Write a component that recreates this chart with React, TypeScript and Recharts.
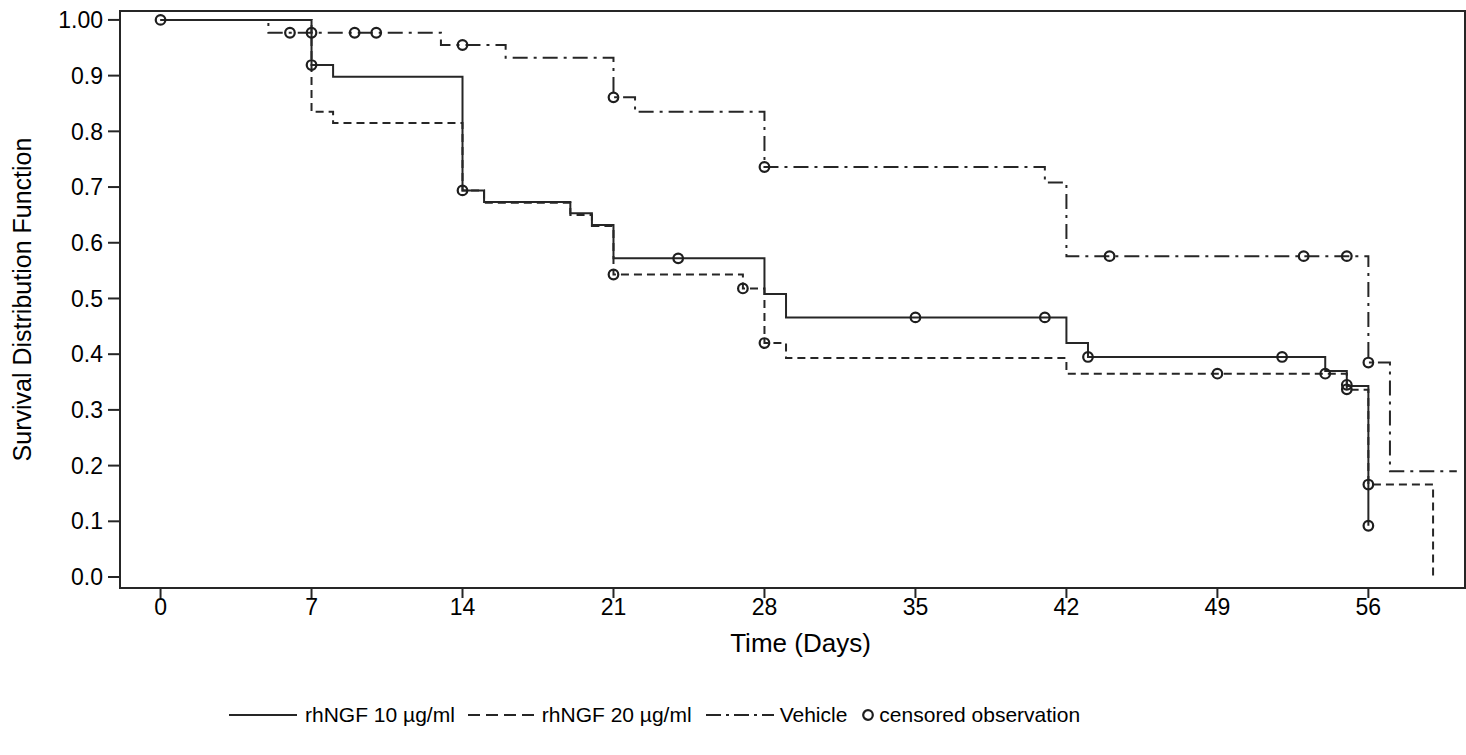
import React from 'react';
import {
  ComposedChart,
  Line,
  Scatter,
  XAxis,
  YAxis,
  ReferenceArea,
} from 'recharts';

// ---- Data (Kaplan-Meier step points: time in days, survival) ----
const timesNGF10 = [0, 7, 8, 14, 15, 19, 20, 21, 28, 29, 42, 43, 54, 55, 56];
const survNGF10 = [1.0, 0.919, 0.898, 0.694, 0.673, 0.653, 0.632, 0.572, 0.508, 0.466, 0.42, 0.395, 0.37, 0.343, 0.092];

const timesNGF20 = [0, 7, 8, 14, 15, 19, 20, 21, 27, 28, 29, 42, 55, 56, 59];
const survNGF20 = [1.0, 0.835, 0.815, 0.694, 0.672, 0.65, 0.63, 0.543, 0.518, 0.42, 0.393, 0.365, 0.336, 0.166, 0.0];

const timesVehicle = [0, 5, 13, 16, 21, 22, 28, 41, 42, 56, 57, 60.1];
const survVehicle = [1.0, 0.977, 0.955, 0.932, 0.861, 0.835, 0.736, 0.708, 0.576, 0.385, 0.19, 0.19];

// censored observations
const censTimesNGF10 = [0, 7, 14, 24, 35, 41, 43, 52, 55, 56];
const censSurvNGF10 = [1.0, 0.919, 0.694, 0.572, 0.466, 0.466, 0.395, 0.395, 0.345, 0.092];

const censTimesNGF20 = [21, 27, 28, 49, 54, 55, 56];
const censSurvNGF20 = [0.543, 0.518, 0.42, 0.365, 0.365, 0.337, 0.166];

const censTimesVehicle = [6, 7, 9, 10, 14, 21, 28, 44, 53, 55, 56];
const censSurvVehicle = [0.977, 0.977, 0.977, 0.977, 0.955, 0.861, 0.736, 0.576, 0.576, 0.576, 0.385];

const xTicks = [0, 7, 14, 21, 28, 35, 42, 49, 56];
const yTicks = [0, 0.1, 0.2, 0.3, 0.4, 0.5, 0.6, 0.7, 0.8, 0.9, 1.0];

const seriesNames = ['rhNGF 10 µg/ml', 'rhNGF 20 µg/ml', 'Vehicle', 'censored observation'];

// ---- build tables ----
const zip = (ts: number[], ss: number[]) => ts.map((t, i) => ({ t, s: ss[i] }));
const dataNGF10 = zip(timesNGF10, survNGF10);
const dataNGF20 = zip(timesNGF20, survNGF20);
const dataVehicle = zip(timesVehicle, survVehicle);
const censored = [
  ...zip(censTimesNGF10, censSurvNGF10),
  ...zip(censTimesNGF20, censSurvNGF20),
  ...zip(censTimesVehicle, censSurvVehicle),
];

const X_DOMAIN: [number, number] = [-1.88, 60.48];
const Y_DOMAIN: [number, number] = [-0.0197, 1.016];

const INK = '#262626';
const FONT = '"Liberation Sans", Arial, Helvetica, sans-serif';
const DASH_20 = '8 5';
const DASH_VEH = '15 6 3 6';

const CircleShape = (props: any) => {
  const { cx, cy } = props;
  if (cx == null || cy == null) return null;
  return <circle cx={cx} cy={cy} r={4.8} fill="none" stroke="#1e1e1e" strokeWidth={2.2} />;
};

const YLabel = (props: any) => {
  const vb = props.viewBox || {};
  const cy = (vb.y ?? 0) + (vb.height ?? 0) / 2;
  const cx = 22;
  return (
    <text
      x={cx}
      y={cy}
      transform={`rotate(-90 ${cx} ${cy})`}
      textAnchor="middle"
      dominantBaseline="central"
      fontSize={25}
      fontFamily={FONT}
      fill="#000"
    >
      Survival Distribution Function
    </text>
  );
};

const XLabel = (props: any) => {
  const vb = props.viewBox || {};
  const cx = (vb.x ?? 0) + (vb.width ?? 0) / 2 + 8;
  return (
    <text x={cx} y={643} textAnchor="middle" dominantBaseline="central" fontSize={26} fontFamily={FONT} fill="#000">
      Time (Days)
    </text>
  );
};

const LegendSample = ({ dash, circle }: { dash?: string; circle?: boolean }) => (
  <svg width={circle ? 14 : 68} height={14} style={{ display: 'block' }}>
    {circle ? (
      <circle cx={7} cy={7} r={4.8} fill="none" stroke="#1e1e1e" strokeWidth={2.2} />
    ) : (
      <line x1={0} y1={7} x2={68} y2={7} stroke={INK} strokeWidth={2} strokeDasharray={dash} />
    )}
  </svg>
);

export default function App() {
  return (
    <div style={{ position: 'absolute', left: 0, top: 0, width: 1466, height: 755, background: '#fff', fontFamily: FONT }}>
      <ComposedChart width={1466} height={755} margin={{ top: 11, right: 1, bottom: 0, left: 0 }}>
        <XAxis
          type="number"
          dataKey="t"
          domain={X_DOMAIN}
          allowDataOverflow
          ticks={xTicks}
          interval={0}
          height={167}
          tickSize={10}
          tickMargin={1}
          tick={{ fontSize: 23, fill: '#000', fontFamily: FONT }}
          axisLine={{ stroke: INK, strokeWidth: 2 }}
          tickLine={{ stroke: INK, strokeWidth: 2 }}
          label={<XLabel />}
        />
        <YAxis
          type="number"
          dataKey="s"
          domain={Y_DOMAIN}
          allowDataOverflow
          ticks={yTicks}
          interval={0}
          width={120}
          tickSize={12}
          tickMargin={5}
          tickFormatter={(v: number) => (v === 1 ? '1.00' : v.toFixed(1))}
          tick={{ fontSize: 23, fill: '#000', fontFamily: FONT }}
          axisLine={{ stroke: INK, strokeWidth: 2 }}
          tickLine={{ stroke: INK, strokeWidth: 2 }}
          label={<YLabel />}
        />
        <ReferenceArea
          x1={X_DOMAIN[0]}
          x2={X_DOMAIN[1]}
          y1={Y_DOMAIN[0]}
          y2={Y_DOMAIN[1]}
          fill="none"
          stroke={INK}
          strokeWidth={2}
          ifOverflow="visible"
        />
        <Line
          data={dataVehicle}
          dataKey="s"
          name={seriesNames[2]}
          type="stepAfter"
          stroke={INK}
          strokeWidth={2}
          strokeDasharray={DASH_VEH}
          dot={false}
          activeDot={false}
          isAnimationActive={false}
        />
        <Line
          data={dataNGF20}
          dataKey="s"
          name={seriesNames[1]}
          type="stepAfter"
          stroke={INK}
          strokeWidth={2}
          strokeDasharray={DASH_20}
          dot={false}
          activeDot={false}
          isAnimationActive={false}
        />
        <Line
          data={dataNGF10}
          dataKey="s"
          name={seriesNames[0]}
          type="stepAfter"
          stroke={INK}
          strokeWidth={2}
          dot={false}
          activeDot={false}
          isAnimationActive={false}
        />
        <Scatter data={censored} dataKey="s" name={seriesNames[3]} shape={<CircleShape />} isAnimationActive={false} />
      </ComposedChart>
      <div
        style={{
          position: 'absolute',
          left: 229,
          top: 702,
          display: 'flex',
          alignItems: 'center',
          fontSize: 21,
          color: '#000',
          whiteSpace: 'nowrap',
          lineHeight: '26px',
        }}
      >
        <LegendSample />
        <span style={{ marginLeft: 8, marginRight: 13 }}>{seriesNames[0]}</span>
        <LegendSample dash="12 6" />
        <span style={{ marginLeft: 6, marginRight: 14 }}>{seriesNames[1]}</span>
        <LegendSample dash="15 5 3 5" />
        <span style={{ marginLeft: 6, marginRight: 14 }}>{seriesNames[2]}</span>
        <LegendSample circle />
        <span style={{ marginLeft: 4 }}>{seriesNames[3]}</span>
      </div>
    </div>
  );
}
